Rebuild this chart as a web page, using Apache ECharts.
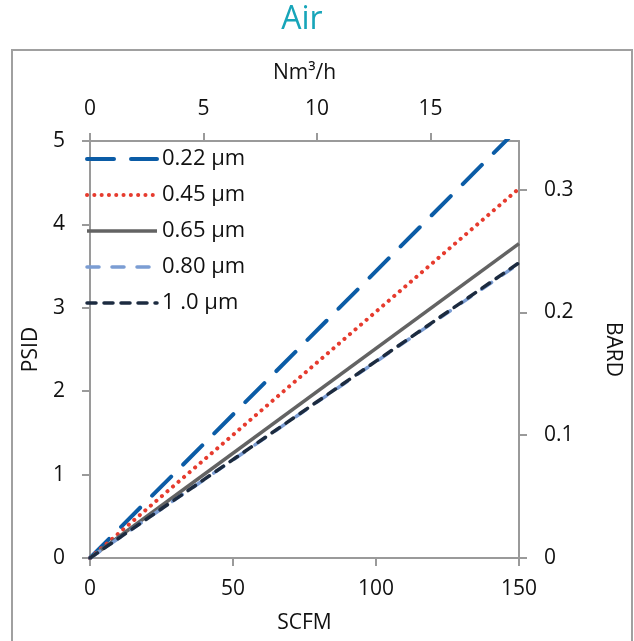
<!DOCTYPE html>
<html>
<head>
<meta charset="utf-8">
<script src="https://cdn.jsdelivr.net/npm/echarts@6/dist/echarts.min.js"></script>
<style>
html,body{margin:0;padding:0;background:#fff;}
#c{width:634px;height:641px;}
</style>
</head>
<body>
<div id="c"></div>
<script>
// Data (SCFM vs PSID, straight lines through origin)
const seriesNames = ['0.22 µm', '0.45 µm', '0.65 µm', '0.80 µm', '1 .0 µm'];
const flowSCFM = [0, 150];
const psid022 = [0, 5.16];
const psid045 = [0, 4.43];
const psid065 = [0, 3.77];
const psid080 = [0, 3.53];
const psid100 = [0, 3.54];
const topTicks = [0, 5, 10, 15];
const rightTicks = [0, 0.1, 0.2, 0.3];

const FONT = 'Open Sans';
const axisCol = '#9a9a9a';

function pairs(ys) { return flowSCFM.map((x, i) => [x, ys[i]]); }

const styles = [
  { color: '#0b5ca6', width: 4, type: [27, 17], cap: 'round' },
  { color: '#e63b2e', width: 4, type: [0.1, 7.2], cap: 'round' },
  { color: '#636363', width: 3.5, type: 'solid', cap: 'butt' },
  { color: '#7b9dd3', width: 3.5, type: [12, 13], cap: 'round' },
  { color: '#1c2b40', width: 3.5, type: [9, 8], cap: 'round' }
];
const values = [psid022, psid045, psid065, psid080, psid100];

const chart = echarts.init(document.getElementById('c'), null, { renderer: 'canvas' });

const labelStyle = { fontFamily: FONT, fontSize: 21, color: '#111' };

function axisCommon() {
  return {
    axisLine: { show: true, onZero: false, lineStyle: { color: axisCol, width: 2 } },
    splitLine: { show: false }
  };
}

chart.setOption({
  animation: false,
  backgroundColor: '#fff',
  title: {
    text: 'Air', left: 297, top: -1, textAlign: 'center',
    textStyle: { fontFamily: FONT, fontSize: 32, fontWeight: 'normal', color: '#17a5b9' }
  },
  graphic: [{
    type: 'rect', shape: { x: 12, y: 50, width: 620, height: 620 },
    style: { fill: 'none', stroke: '#a0a0a0', lineWidth: 2 }, silent: true, z: -1
  }],
  legend: {
    orient: 'vertical', left: 80, top: 143,
    itemWidth: 70, itemHeight: 20, itemGap: 14,
    itemStyle: { opacity: 0 },
    lineStyle: { width: 'inherit' },
    textStyle: { fontFamily: FONT, fontSize: 22, color: '#111', lineHeight: 20 },
    data: seriesNames
  },
  grid: { left: 90, top: 141, right: 115, bottom: 83 },
  xAxis: [Object.assign(axisCommon(), {
    type: 'value', position: 'bottom', min: 0, max: 150, interval: 50,
    name: 'SCFM', nameLocation: 'middle', nameGap: 55,
    nameTextStyle: labelStyle,
    axisTick: { show: true, inside: false, length: 8, lineStyle: { color: axisCol, width: 2 } },
    axisLabel: Object.assign({ margin: 21 }, labelStyle)
  }), Object.assign(axisCommon(), {
    type: 'value', position: 'top', min: 0, max: 18.9,
    name: 'Nm³/h', nameLocation: 'middle', nameGap: 57,
    nameTextStyle: labelStyle,
    axisTick: { show: true, inside: false, length: 8, customValues: topTicks, lineStyle: { color: axisCol, width: 2 } },
    axisLabel: Object.assign({ margin: 21, customValues: topTicks }, labelStyle)
  })],
  yAxis: [Object.assign(axisCommon(), {
    type: 'value', position: 'left', min: 0, max: 5, interval: 1,
    name: 'PSID', nameLocation: 'middle', nameGap: 48,
    nameTextStyle: labelStyle,
    axisTick: { show: true, inside: false, length: 8, lineStyle: { color: axisCol, width: 2 } },
    axisLabel: Object.assign({ margin: 25 }, labelStyle)
  }), Object.assign(axisCommon(), {
    type: 'value', position: 'right', min: 0, max: 0.3396,
    name: 'BARD', nameLocation: 'middle', nameGap: 83, nameRotate: -90,
    nameTextStyle: labelStyle,
    axisTick: { show: true, inside: false, length: 8, customValues: rightTicks, lineStyle: { color: axisCol, width: 2 } },
    axisLabel: Object.assign({ margin: 25, customValues: rightTicks }, labelStyle)
  })],
  series: seriesNames.map((n, i) => ({
    name: n, type: 'line', xAxisIndex: 0, yAxisIndex: 0,
    data: pairs(values[i]), symbol: 'none', clip: true,
    lineStyle: { color: styles[i].color, width: styles[i].width, type: styles[i].type, cap: styles[i].cap },
    itemStyle: { color: styles[i].color },
    z: 2 + i
  }))
});
</script>
</body>
</html>
